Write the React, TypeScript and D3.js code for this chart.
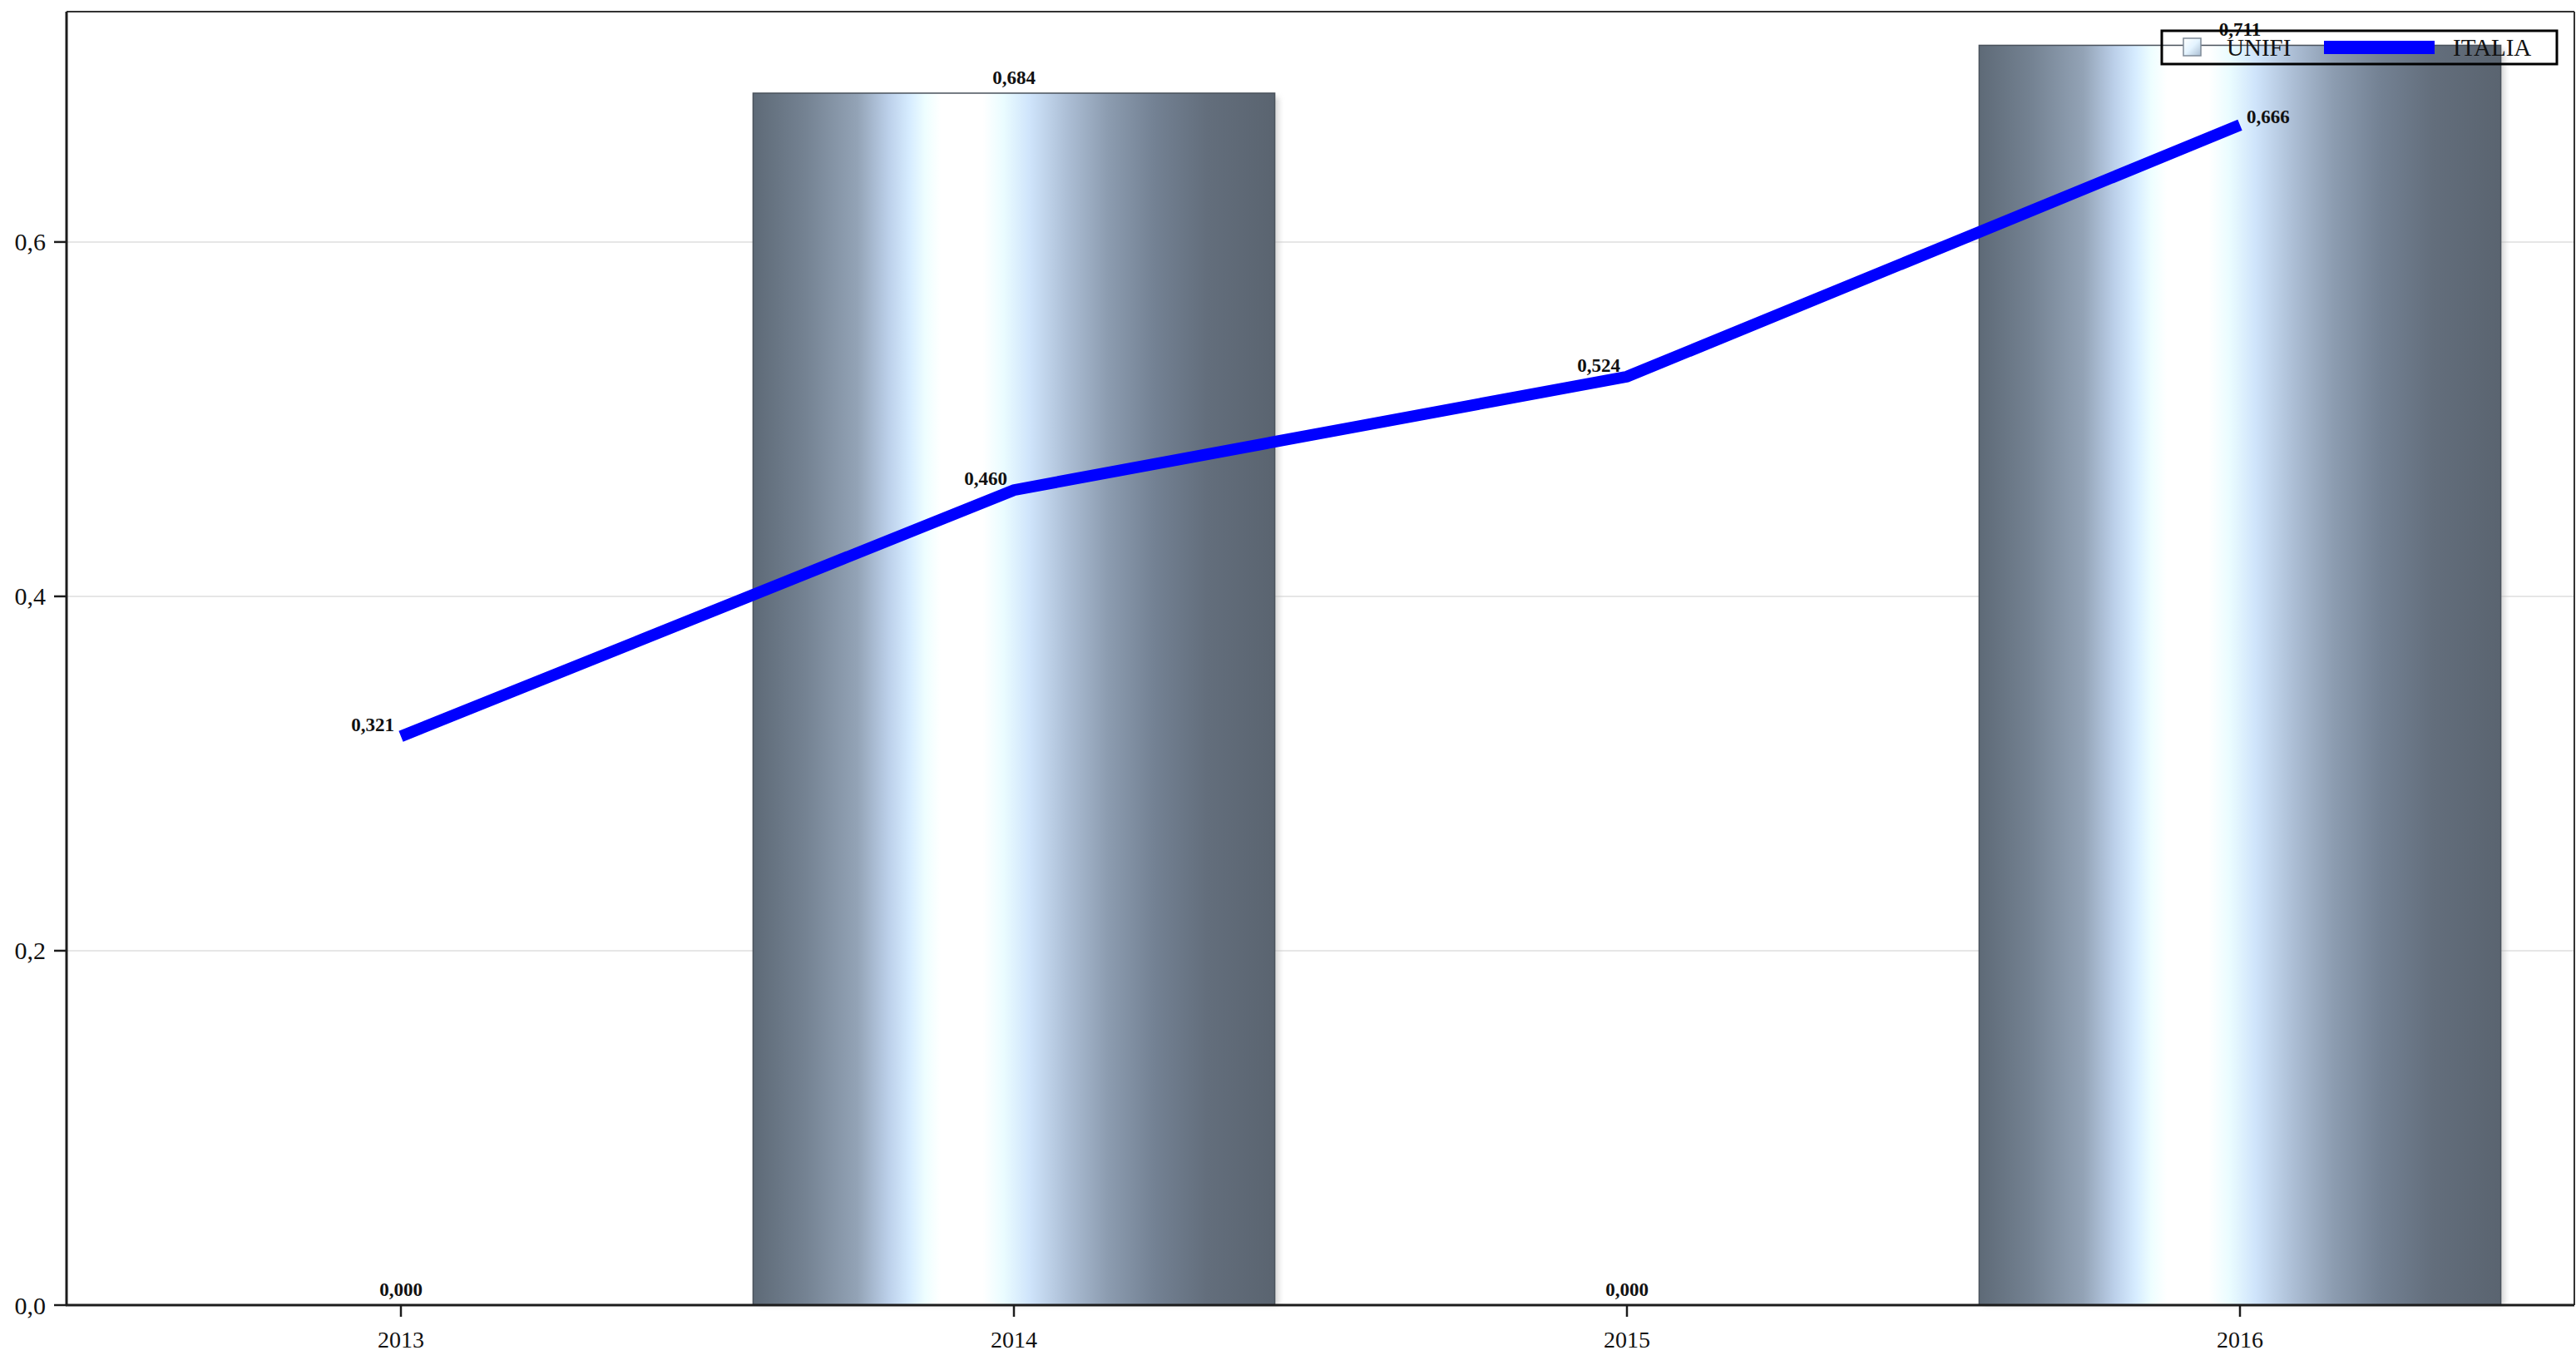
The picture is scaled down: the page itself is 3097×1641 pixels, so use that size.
import React from "react";
import * as d3 from "d3";

const years = ["2013", "2014", "2015", "2016"];
const unifi = [0.0, 0.684, 0.0, 0.711];
const italia = [0.321, 0.46, 0.524, 0.666];
const yTicks = [0, 0.2, 0.4, 0.6];
const seriesNames = ["UNIFI", "ITALIA"];

const W = 3097;
const H = 1641;
const plot = { left: 80, right: 3095, top: 14, bottom: 1569 };
const FONT = "'Liberation Serif', 'DejaVu Serif', serif";

const fmt3 = (v: number) => d3.format(".3f")(v).replace(".", ",");
const fmt1 = (v: number) => d3.format(".1f")(v).replace(".", ",");

const barStops: [number, string][] = [
  [0, "#5e6a77"],
  [0.1, "#748292"],
  [0.2, "#93a3b6"],
  [0.26, "#bcd0ea"],
  [0.3, "#d6ecff"],
  [0.33, "#eefeff"],
  [0.36, "#ffffff"],
  [0.44, "#ffffff"],
  [0.48, "#eafcff"],
  [0.53, "#cfe4fb"],
  [0.6, "#adbfd6"],
  [0.68, "#8c9cb0"],
  [0.77, "#738193"],
  [0.87, "#636e7c"],
  [1, "#5a6470"],
];

export default function App() {
  const x = d3.scalePoint<string>().domain(years).range([482, 2693]);
  const step = x.step();
  const barW = step * 0.851;
  const y = d3.scaleLinear().domain([0, 0.73]).range([plot.bottom, plot.top]);

  const line = d3
    .line<number>()
    .x((_, i) => x(years[i]) as number)
    .y((d) => y(d));

  return (
    <svg
      width={W}
      height={H}
      style={{ position: "absolute", left: 0, top: 0, background: "#fff" }}
      fontFamily={FONT}
    >
      <defs>
        <linearGradient id="barGrad" x1="0" x2="1" y1="0" y2="0">
          {barStops.map(([o, c], i) => (
            <stop key={i} offset={o} stopColor={c} />
          ))}
        </linearGradient>
        <linearGradient id="swGrad" x1="0" x2="1" y1="0" y2="1">
          <stop offset="0" stopColor="#ffffff" />
          <stop offset="0.5" stopColor="#e4f4ff" />
          <stop offset="1" stopColor="#a9bdd2" />
        </linearGradient>
        <filter id="blur" x="-10%" y="-10%" width="130%" height="130%">
          <feGaussianBlur stdDeviation="3" />
        </filter>
      </defs>
      <rect x={0} y={0} width={W} height={H} fill="#fff" />

      {/* gridlines */}
      {yTicks
        .filter((t) => t > 0)
        .map((t) => (
          <line
            key={t}
            x1={plot.left}
            x2={plot.right}
            y1={y(t)}
            y2={y(t)}
            stroke="#e6e6e6"
            strokeWidth={2}
          />
        ))}

      {/* bars */}
      {unifi.map((v, i) => {
        const cx = x(years[i]) as number;
        const top = y(v);
        const h = plot.bottom - top;
        return (
          <g key={years[i]}>
            {h > 0 && (
              <rect
                x={cx - barW / 2 + 5}
                y={top + 5}
                width={barW}
                height={h - 5}
                fill="#b8b8b8"
                opacity={0.55}
                filter="url(#blur)"
              />
            )}
            <rect
              x={cx - barW / 2}
              y={top}
              width={barW}
              height={h}
              fill="url(#barGrad)"
              stroke="#4a525c"
              strokeWidth={1.5}
            />
          </g>
        );
      })}

      {/* frame */}
      <line x1={plot.left} x2={plot.right} y1={plot.top} y2={plot.top} stroke="#333" strokeWidth={2} />
      <line x1={plot.right} x2={plot.right} y1={plot.top} y2={plot.bottom} stroke="#333" strokeWidth={2} />
      <line x1={plot.left} x2={plot.left} y1={plot.top} y2={plot.bottom + 1} stroke="#1c1c1c" strokeWidth={3} />
      <line x1={plot.left - 1} x2={plot.right} y1={plot.bottom} y2={plot.bottom} stroke="#1c1c1c" strokeWidth={3} />

      {/* y ticks */}
      {yTicks.map((t) => (
        <g key={t}>
          <line x1={plot.left - 15} x2={plot.left} y1={y(t)} y2={y(t)} stroke="#1c1c1c" strokeWidth={2.5} />
          <text
            x={55}
            y={y(t)}
            dy="0.35em"
            textAnchor="end"
            fontSize={30}
            fill="#111"
          >
            {fmt1(t)}
          </text>
        </g>
      ))}

      {/* x ticks */}
      {years.map((yr) => (
        <g key={yr}>
          <line
            x1={x(yr) as number}
            x2={x(yr) as number}
            y1={plot.bottom}
            y2={plot.bottom + 14}
            stroke="#1c1c1c"
            strokeWidth={2.5}
          />
          <text x={x(yr) as number} y={1620} textAnchor="middle" fontSize={28} fill="#111">
            {yr}
          </text>
        </g>
      ))}

      {/* line */}
      <path
        d={line(italia) || ""}
        fill="none"
        stroke="#0000ff"
        strokeWidth={14}
        strokeLinejoin="miter"
        strokeLinecap="butt"
      />

      {/* bar labels */}
      {unifi.map((v, i) => (
        <text
          key={"b" + i}
          x={x(years[i]) as number}
          y={y(v) - 11}
          textAnchor="middle"
          fontSize={23}
          fontWeight="bold"
          fill="#111"
        >
          {fmt3(v)}
        </text>
      ))}

      {/* line labels */}
      {italia.map((v, i) => {
        const last = i === italia.length - 1;
        const px = x(years[i]) as number;
        return (
          <text
            key={"l" + i}
            x={last ? px + 8 : px - 8}
            y={last ? y(v) - 2 : y(v) - 6}
            textAnchor={last ? "start" : "end"}
            fontSize={23}
            fontWeight="bold"
            fill="#111"
          >
            {fmt3(v)}
          </text>
        );
      })}

      {/* legend */}
      <g>
        <rect x={2599} y={37} width={475} height={40} fill="none" stroke="#000" strokeWidth={3} />
        <rect x={2625} y={46} width={21} height={21} fill="url(#swGrad)" stroke="#7f8b98" strokeWidth={1.5} />
        <text x={2677} y={67} fontSize={29} fill="#111">
          {seriesNames[0]}
        </text>
        <line x1={2794} x2={2927} y1={57} y2={57} stroke="#0000ff" strokeWidth={16} />
        <text x={2949} y={67} fontSize={29} fill="#111">
          {seriesNames[1]}
        </text>
      </g>
    </svg>
  );
}
